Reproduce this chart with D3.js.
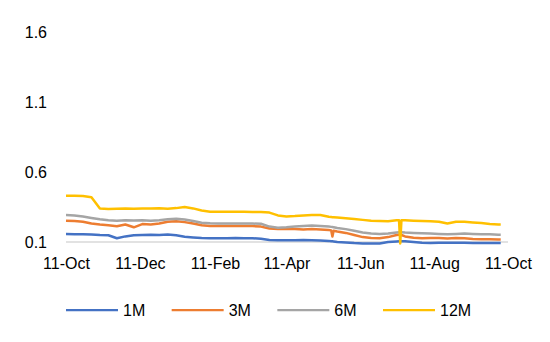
<!DOCTYPE html>
<html>
<head>
<meta charset="utf-8">
<script src="https://cdn.jsdelivr.net/npm/d3@7"></script>
<style>
html,body{margin:0;padding:0;background:#fff;}
svg{display:block;font-family:"Liberation Sans",Arial,sans-serif;}
</style>
</head>
<body>
<svg id="chart" width="550" height="342"></svg>
<script>
const dates = ["2022-10-11","2022-10-18","2022-10-25","2022-11-01","2022-11-08","2022-11-15","2022-11-22","2022-11-29","2022-12-06","2022-12-13","2022-12-20","2022-12-27","2023-01-03","2023-01-10","2023-01-17","2023-01-24","2023-01-31","2023-02-07","2023-02-14","2023-02-21","2023-02-28","2023-03-07","2023-03-14","2023-03-21","2023-03-28","2023-04-04","2023-04-11","2023-04-18","2023-04-25","2023-05-02","2023-05-09","2023-05-16","2023-05-18","2023-05-19","2023-05-20","2023-05-23","2023-05-30","2023-06-06","2023-06-13","2023-06-20","2023-06-27","2023-07-04","2023-07-11","2023-07-13","2023-07-14","2023-07-15","2023-07-18","2023-07-25","2023-08-01","2023-08-08","2023-08-15","2023-08-22","2023-08-29","2023-09-05","2023-09-12","2023-09-19","2023-09-26","2023-10-03","2023-10-05"];
const s1M  = [0.157,0.156,0.155,0.154,0.150,0.148,0.127,0.140,0.148,0.150,0.152,0.150,0.153,0.148,0.138,0.133,0.128,0.127,0.127,0.127,0.128,0.127,0.127,0.124,0.115,0.112,0.112,0.113,0.114,0.113,0.110,0.108,0.106,0.105,0.104,0.100,0.096,0.092,0.090,0.089,0.090,0.100,0.104,0.105,0.105,0.105,0.105,0.100,0.095,0.093,0.095,0.094,0.095,0.094,0.093,0.092,0.092,0.092,0.092];
const s3M  = [0.252,0.250,0.245,0.232,0.225,0.220,0.212,0.225,0.205,0.228,0.225,0.232,0.245,0.248,0.242,0.232,0.220,0.215,0.214,0.214,0.214,0.214,0.214,0.210,0.196,0.193,0.195,0.193,0.190,0.192,0.190,0.185,0.183,0.140,0.180,0.175,0.165,0.150,0.135,0.128,0.127,0.135,0.150,0.152,0.152,0.150,0.140,0.130,0.127,0.128,0.128,0.125,0.128,0.126,0.122,0.120,0.119,0.118,0.118];
const s6M  = [0.293,0.290,0.282,0.272,0.262,0.255,0.252,0.256,0.253,0.255,0.252,0.256,0.262,0.266,0.260,0.250,0.238,0.234,0.233,0.232,0.232,0.233,0.232,0.230,0.210,0.202,0.205,0.210,0.215,0.218,0.215,0.210,0.208,0.207,0.206,0.200,0.192,0.180,0.168,0.160,0.157,0.160,0.168,0.170,0.170,0.170,0.168,0.165,0.162,0.160,0.158,0.155,0.158,0.160,0.158,0.156,0.155,0.152,0.152];
const s12M = [0.430,0.430,0.428,0.420,0.340,0.336,0.338,0.340,0.338,0.340,0.339,0.341,0.338,0.342,0.350,0.340,0.325,0.316,0.316,0.316,0.316,0.316,0.315,0.314,0.310,0.290,0.282,0.285,0.290,0.292,0.293,0.280,0.278,0.277,0.277,0.275,0.270,0.265,0.258,0.252,0.250,0.248,0.255,0.255,0.090,0.255,0.255,0.252,0.250,0.248,0.245,0.232,0.245,0.245,0.240,0.235,0.228,0.225,0.225];
const seriesNames = ["1M","3M","6M","12M"];
const seriesColors = ["#4472C4","#ED7D31","#A5A5A5","#FFC000"];
const yTicks = [0.1,0.6,1.1,1.6];
const xTicks = ["2022-10-11","2022-12-11","2023-02-11","2023-04-11","2023-06-11","2023-08-11","2023-10-11"];

const parse = d3.timeParse("%Y-%m-%d");
const svg = d3.select("#chart");
const plot = {left:66, right:508, top:32, bottom:242};
const FS = 16;

const x = d3.scaleTime().domain([parse("2022-10-11"), parse("2023-10-11")]).range([plot.left, plot.right]);
const y = d3.scaleLinear().domain([0.1,1.6]).range([plot.bottom, plot.top]);

// y tick labels
const yAxis = d3.axisLeft(y).tickValues(yTicks).tickFormat(d3.format(".1f")).tickSize(0).tickPadding(0);
const gy = svg.append("g").attr("transform","translate(47,0)").call(yAxis);
gy.select(".domain").remove();
gy.selectAll("text").attr("font-size",FS).attr("fill","#000").attr("font-family","Liberation Sans, Arial, sans-serif");

// x axis line
svg.append("line").attr("x1",plot.left).attr("x2",plot.right).attr("y1",y(0.1)).attr("y2",y(0.1))
  .attr("stroke","#D9D9D9").attr("stroke-width",1.5);

const xAxis = d3.axisBottom(x).tickValues(xTicks.map(parse)).tickFormat(d3.timeFormat("%d-%b")).tickSize(0).tickPadding(0);
const gx = svg.append("g").attr("transform",`translate(0,${y(0.1)+16})`).call(xAxis);
gx.select(".domain").remove();
gx.selectAll("text").attr("font-size",FS).attr("fill","#000").attr("font-family","Liberation Sans, Arial, sans-serif");

const allSeries = [s1M,s3M,s6M,s12M];
const line = d3.line().x((d,i)=>x(parse(dates[i]))).y(d=>y(d));
allSeries.forEach((s,k)=>{
  svg.append("path").datum(s).attr("d",line).attr("fill","none")
    .attr("stroke",seriesColors[k]).attr("stroke-width",2.5).attr("stroke-linejoin","round");
});

// legend
const legendX = d3.scalePoint().domain(seriesNames).range([66,383]);
const lg = svg.append("g");
const LY = 310;
seriesNames.forEach((n,k)=>{
  const lx = legendX(n);
  lg.append("line").attr("x1",lx).attr("x2",lx+52).attr("y1",LY).attr("y2",LY)
    .attr("stroke",seriesColors[k]).attr("stroke-width",2.25);
  lg.append("text").attr("x",lx+57).attr("y",LY).attr("dy","0.35em").attr("font-size",FS)
    .attr("fill","#000").text(n);
});
</script>
</body>
</html>
